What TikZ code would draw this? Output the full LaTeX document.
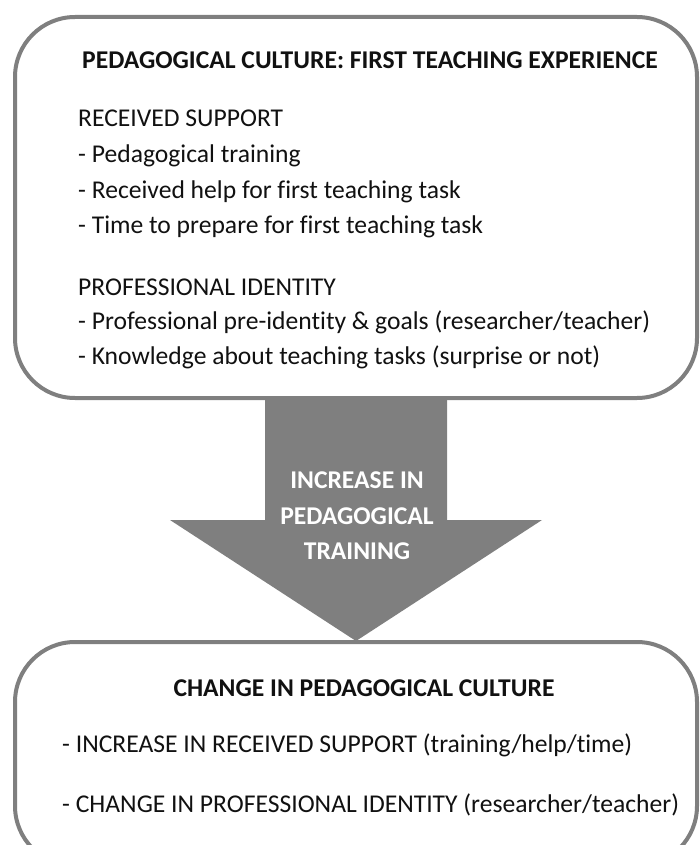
\documentclass[tikz,border=0pt]{standalone}
\usepackage{fontspec}
\setmainfont{Carlito}[Ligatures=NoCommon]
\definecolor{boxgray}{HTML}{7F7F7F}
\definecolor{textblack}{HTML}{111111}
\begin{document}
\begin{tikzpicture}[x=1pt,y=-1pt,
  panel/.style={draw=boxgray, line width=4pt, rounded corners=60pt, fill=white},
  body/.style={anchor=west, inner sep=0pt, font=\fontsize{25.6}{30}\selectfont, text=textblack},
  head/.style={anchor=center, inner sep=0pt, font=\fontsize{25.6}{30}\selectfont\bfseries, text=textblack},
  arrowtext/.style={anchor=center, inner sep=0pt, font=\fontsize{25.6}{30}\selectfont\bfseries, text=white}]
\useasboundingbox (0,0) rectangle (700,845);
\clip (0,0) rectangle (700,845);
% boxes
\draw[panel] (15,17) rectangle (697,398);
\draw[panel] (15,642) rectangle (697,866);
% arrow
\fill[boxgray] (265,400) -- (447,400) -- (447,520) -- (542,520) -- (356,641) -- (170,520) -- (265,520) -- cycle;
% top box text
\node[head] (t0) at (370,60) {PEDAGOGICAL CULTURE: FIRST TEACHING EXPERIENCE};
\node[body] (t1) at (78,118) {RECEIVED SUPPORT};
\node[body] (t2) at (78,156) {- Pedagogical training};
\node[body] (t3) at (78,192) {- Received help for first teaching task};
\node[body] (t4) at (78,227) {- Time to prepare for first teaching task};
\node[body] (t5) at (78,287) {PROFESSIONAL IDENTITY};
\node[body] (t6) at (78,322) {- Professional pre-identity \& goals (researcher/teacher)};
\node[body] (t7) at (78,357) {- Knowledge about teaching tasks (surprise or not)};
% arrow text
\node[arrowtext] (a1) at (357,480) {INCREASE IN};
\node[arrowtext] (a2) at (357,516) {PEDAGOGICAL};
\node[arrowtext] (a3) at (357,551) {TRAINING};
% bottom box text
\node[head] (b0) at (364,688) {CHANGE IN PEDAGOGICAL CULTURE};
\node[body] (b1) at (62,745) {- INCREASE IN RECEIVED SUPPORT (training/help/time)};
\node[body] (b2) at (62,805) {- CHANGE IN PROFESSIONAL IDENTITY (researcher/teacher)};
\end{tikzpicture}
\end{document}
